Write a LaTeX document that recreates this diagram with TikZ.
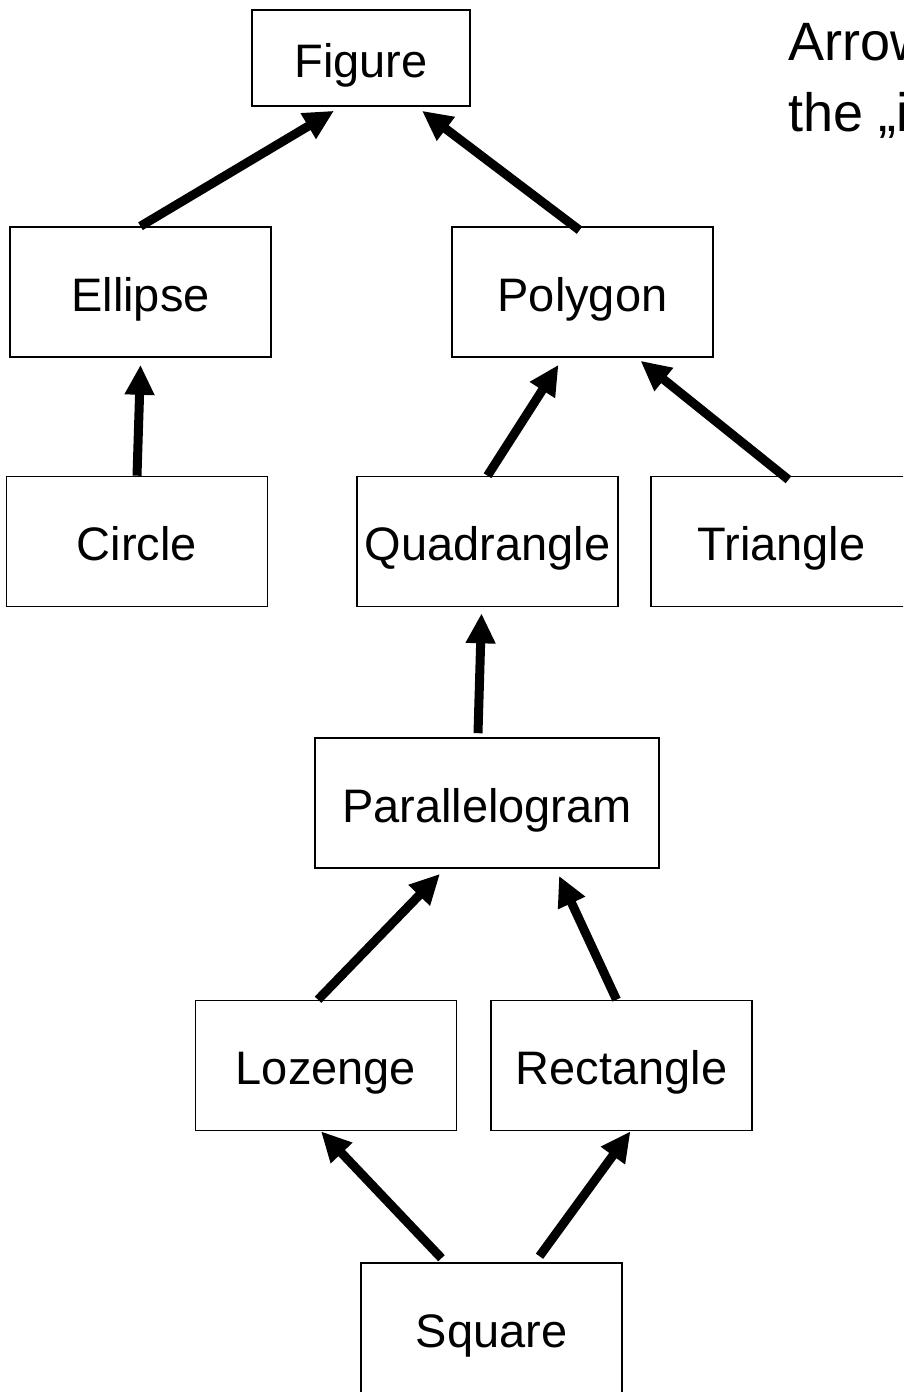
\documentclass[tikz,border=0pt]{standalone}
\usepackage{fontspec}
\setmainfont{Liberation Sans}
\usetikzlibrary{arrows.meta}

\tikzset{
    shapebox/.style={draw, line width=1.6pt, inner sep=0pt, minimum width=261pt, minimum height=130pt,
        text height=38pt, text depth=0pt, font=\fontsize{47pt}{56pt}\selectfont},
    isa/.style={-{Triangle[length=30pt,width=28pt]}, line width=9pt}
}

\begin{document}
\begin{tikzpicture}[x=1pt, y=-1pt]
    
    \path[use as bounding box, clip] (0,0) rectangle (903,1392);
    \fill[white] (0,0) rectangle (903,1392);
    
    % classes
    \node[shapebox, minimum width=218pt, minimum height=96pt] (figure) at (361,58) {Figure};
    \node[shapebox] (ellipse) at (140.5,292) {Ellipse};
    \node[shapebox] (polygon) at (582.5,292) {Polygon};
    \node[shapebox] (circle) at (137,541.5) {Circle};
    \node[shapebox] (quadrangle) at (487.5,541.5) {Quadrangle};
    \node[shapebox] (triangle) at (781.5,541.5) {Triangle};
    \node[shapebox, minimum width=344pt] (parallelogram) at (487,803) {Parallelogram};
    \node[shapebox] (lozenge) at (326,1065.5) {Lozenge};
    \node[shapebox] (rectangle) at (621.5,1065.5) {Rectangle};
    \node[shapebox] (square) at (491.5,1328) {Square};
    
    % "is a" arrows
    \draw[isa] (ellipse.north) -- ([xshift=-27pt,yshift=-4pt]figure.south);
    \draw[isa] ([xshift=-3pt,yshift=-4pt]polygon.north) -- ([xshift=61pt,yshift=-4pt]figure.south);
    \draw[isa] (circle.north) -- ([yshift=-7pt]ellipse.south);
    \draw[isa] (quadrangle.north) -- ([xshift=-24pt,yshift=-7pt]polygon.south);
    \draw[isa] ([xshift=7pt,yshift=-4pt]triangle.north) -- ([xshift=58pt,yshift=-3pt]polygon.south);
    \draw[isa] ([xshift=-9pt,yshift=4pt]parallelogram.north) -- ([xshift=-6pt,yshift=-6pt]quadrangle.south);
    \draw[isa] ([xshift=-8pt]lozenge.north) -- ([xshift=-47pt,yshift=-5pt]parallelogram.south);
    \draw[isa] ([xshift=-5pt]rectangle.north) -- ([xshift=72pt,yshift=-7pt]parallelogram.south);
    \draw[isa] ([xshift=-50pt,yshift=4pt]square.north) -- ([xshift=-5pt]lozenge.south);
    \draw[isa] ([xshift=48pt,yshift=6pt]square.north) -- ([xshift=9pt]rectangle.south);
    
    % note, cut off at the right edge
    \node[anchor=base west, inner sep=0pt, font=\fontsize{54pt}{71pt}\selectfont] (note1) at (788,60) {Arrows show};
    \node[anchor=base west, inner sep=0pt, font=\fontsize{54pt}{71pt}\selectfont] (note2) at (788,131) {the „is a“ relation};
\end{tikzpicture}
\end{document}
